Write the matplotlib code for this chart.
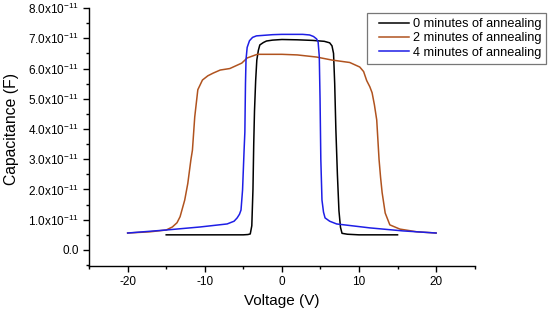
import matplotlib
matplotlib.use("Agg")
import matplotlib.pyplot as plt
from matplotlib.ticker import MultipleLocator, FuncFormatter
from matplotlib.lines import Line2D
from matplotlib.legend_handler import HandlerLine2D

plt.rcParams['font.family'] = ['Liberation Sans', 'DejaVu Sans']
plt.rcParams['mathtext.fontset'] = 'custom'
plt.rcParams['mathtext.rm'] = 'Liberation Sans'
plt.rcParams['mathtext.it'] = 'Liberation Sans:italic'
plt.rcParams['axes.unicode_minus'] = False

# capacitance values in units of 1e-11 F
v_0min = [-15, -10, -5, -4.4, -4.1, -3.9, -3.75, -3.65, -3.55, -3.4, -3.25, -3.05, -2.86, -2.4, -2.0, -1.2, 0, 2, 4, 5.5, 6.2, 6.5, 6.7, 6.85, 7.0, 7.2, 7.4, 7.6, 7.8, 8.5, 10, 15]
c_0min = [0.50, 0.50, 0.50, 0.51, 0.53, 0.8, 2.0, 3.5, 4.6, 5.6, 6.28, 6.6, 6.78, 6.86, 6.91, 6.94, 6.96, 6.95, 6.93, 6.9, 6.85, 6.75, 6.5, 5.5, 4.0, 2.5, 1.3, 0.75, 0.55, 0.52, 0.5, 0.5]

v_2min = [-20, -17.1, -15, -14.2, -13.6, -13.2, -12.6, -12.2, -11.8, -11.6, -11.3, -10.9, -10.3, -9.6, -8.9, -8.0, -6.75, -5.2, -4.5, -3.2, -2, 0, 2, 4.5, 6.5, 8.8, 10.1, 10.6, 11.0, 11.4, 11.7, 12.0, 12.3, 12.6, 12.8, 13.0, 13.4, 14.0, 15.3, 17.5, 20]
c_2min = [0.56, 0.6, 0.66, 0.76, 0.9, 1.1, 1.65, 2.2, 2.98, 3.3, 4.4, 5.3, 5.62, 5.76, 5.85, 5.95, 6.0, 6.18, 6.35, 6.47, 6.47, 6.47, 6.45, 6.38, 6.28, 6.2, 6.05, 5.9, 5.6, 5.4, 5.2, 4.8, 4.3, 3.0, 2.4, 1.9, 1.22, 0.83, 0.69, 0.6, 0.56]

v_4min = [-20, -15, -10.6, -7.1, -6.2, -5.8, -5.5, -5.3, -5.1, -4.9, -4.8, -4.72, -4.65, -4.5, -4.2, -3.8, -3.3, -1.2, 0, 2.7, 3.6, 4.1, 4.5, 4.7, 4.85, 4.95, 5.05, 5.2, 5.4, 5.6, 6.2, 7.1, 11.4, 15.7, 20]
c_4min = [0.56, 0.66, 0.76, 0.86, 0.95, 1.06, 1.18, 1.32, 1.98, 3.3, 3.9, 5.5, 6.3, 6.7, 6.92, 7.03, 7.08, 7.12, 7.13, 7.13, 7.11, 7.06, 6.98, 6.88, 6.4, 5.0, 3.0, 1.65, 1.25, 1.06, 0.95, 0.86, 0.73, 0.63, 0.56]

labels = ['0 minutes of annealing', '2 minutes of annealing', '4 minutes of annealing']
colors = ['black', '#b0531f', '#1e1ee6']

fig = plt.figure(figsize=(5.5, 3.1), dpi=100)
ax = fig.add_axes([0.162, 0.142, 0.701, 0.832])

ax.plot(v_0min, c_0min, color=colors[0], lw=1.1, label=labels[0])
ax.plot(v_2min, c_2min, color=colors[1], lw=1.1, label=labels[1])
ax.plot(v_4min, c_4min, color=colors[2], lw=1.1, label=labels[2])

ax.set_xlim(-25, 25)
ax.set_ylim(-0.53, 8.0)
ax.xaxis.set_major_locator(MultipleLocator(10))
ax.xaxis.set_minor_locator(MultipleLocator(5))
ax.yaxis.set_major_locator(MultipleLocator(1))
ax.yaxis.set_minor_locator(MultipleLocator(0.5))


def yfmt(val, pos):
    if abs(val) < 1e-9:
        return '0.0'
    return '%.1fx10$^{-11}$' % val


ax.yaxis.set_major_formatter(FuncFormatter(yfmt))
ax.spines['top'].set_visible(False)
ax.spines['right'].set_visible(False)
for s in ['left', 'bottom']:
    ax.spines[s].set_linewidth(1.0)
ax.tick_params(which='major', direction='out', length=4, width=1, labelsize=8.5)
ax.tick_params(which='minor', direction='out', length=2.5, width=1)

ax.set_xlabel('Voltage (V)', fontsize=11)
ax.set_ylabel('Capacitance (F)', fontsize=11.3)
ax.yaxis.set_label_coords(-0.182, 0.53)

leg = ax.legend(loc='upper right', bbox_to_anchor=(0.993, 0.958), bbox_transform=fig.transFigure,
                fontsize=9.2, frameon=True, fancybox=False, handlelength=2.9, handletextpad=0.3,
                borderpad=0.4, labelspacing=0.18, borderaxespad=0,
                handler_map={Line2D: HandlerLine2D(xpad=0.6)})
leg.get_frame().set_edgecolor('#555555')
leg.get_frame().set_linewidth(0.9)

fig.savefig('out.png', dpi=100)
